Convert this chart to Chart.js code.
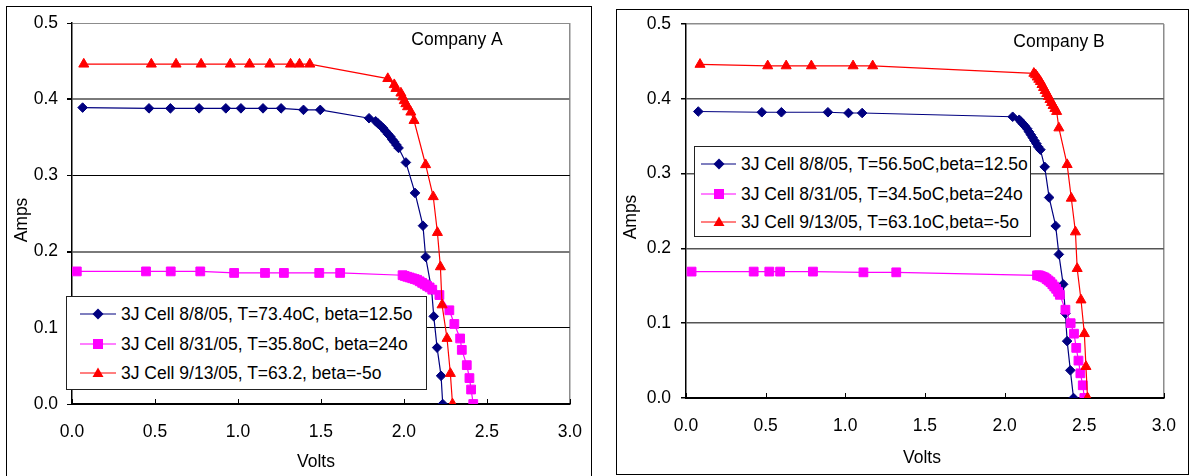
<!DOCTYPE html>
<html>
<head>
<meta charset="utf-8">
<script src="https://cdn.jsdelivr.net/npm/chart.js@4.4.1/dist/chart.umd.min.js"></script>
<style>
  html, body { margin: 0; padding: 0; background: #fff; }
  body { width: 1194px; height: 476px; position: relative; overflow: hidden;
         font-family: "Liberation Sans", Arial, sans-serif; }
  canvas { position: absolute; top: 0; }
  .frame { position: absolute; border: 1.5px solid #000; box-sizing: border-box; }
  .legend { position: absolute; background: #fff; border: 1.5px solid #222; box-sizing: border-box; }
  .legend .row { position: absolute; left: 0; height: 20px; line-height: 20px; font-size: 17.5px;
                 white-space: nowrap; color: #000; }
  .legend .row span { position: absolute; top: 0; }
  .legend svg { position: absolute; top: 3px; }
</style>
</head>
<body>
<div class="frame" style="left:6px; top:6px; width:586px; height:480px;"></div>
<div class="frame" style="left:616px; top:9px; width:573px; height:466px;"></div>
<canvas id="chartA" width="600" height="476" style="left:0;"></canvas>
<canvas id="chartB" width="594" height="476" style="left:600px;"></canvas>
<div class="legend" id="legendA" style="left:66px; top:296px; width:361px; height:94px;"></div>
<div class="legend" id="legendB" style="left:694px; top:146px; width:337px; height:91px;"></div>

<script>
'use strict';

// ---- Company A ----
const aLabels = [
  '3J Cell 8/8/05, T=73.4oC, beta=12.5o',
  '3J Cell 8/31/05, T=35.8oC, beta=24o',
  '3J Cell 9/13/05, T=63.2, beta=-5o',
];
const aBlueV = [0.064, 0.464, 0.593, 0.766, 0.927, 1.018, 1.151, 1.26, 1.395, 1.496,
  1.79, 1.83, 1.845, 1.86, 1.875, 1.89, 1.905, 1.918, 1.93, 1.942, 1.955, 1.968,
  2.012, 2.067, 2.115, 2.131, 2.167, 2.18, 2.2, 2.224, 2.234];
const aBlueI = [0.389, 0.388, 0.388, 0.388, 0.388, 0.388, 0.388, 0.388, 0.386, 0.386,
  0.375, 0.371, 0.368, 0.365, 0.362, 0.358, 0.354, 0.351, 0.347, 0.344, 0.34, 0.336,
  0.317, 0.277, 0.234, 0.193, 0.15, 0.115, 0.074, 0.037, 0.0];
const aPinkV = [0.029, 0.446, 0.595, 0.773, 0.977, 1.163, 1.277, 1.49, 1.616,
  1.992, 2.005, 2.02, 2.035, 2.05, 2.065, 2.08, 2.095, 2.11, 2.125, 2.14, 2.155, 2.171,
  2.214, 2.274, 2.304, 2.339, 2.349, 2.379, 2.395, 2.405, 2.418];
const aPinkI = [0.174, 0.174, 0.174, 0.174, 0.172, 0.172, 0.172, 0.172, 0.172,
  0.169, 0.168, 0.167, 0.166, 0.165, 0.164, 0.163, 0.161, 0.159, 0.157, 0.155, 0.153, 0.15,
  0.143, 0.123, 0.105, 0.086, 0.071, 0.051, 0.034, 0.019, 0.0];
const aRedV = [0.071, 0.478, 0.627, 0.778, 0.954, 1.07, 1.192, 1.317, 1.371, 1.433,
  1.903, 1.942, 1.952, 1.982, 1.992, 2.002, 2.012, 2.022, 2.042, 2.061,
  2.131, 2.177, 2.202, 2.22, 2.23, 2.26, 2.28, 2.293];
const aRedI = [0.446, 0.446, 0.446, 0.446, 0.446, 0.446, 0.446, 0.446, 0.446, 0.446,
  0.427, 0.419, 0.414, 0.408, 0.403, 0.398, 0.394, 0.39, 0.383, 0.372,
  0.314, 0.272, 0.225, 0.18, 0.13, 0.086, 0.04, 0.0];

// ---- Company B ----
const bLabels = [
  '3J Cell 8/8/05, T=56.5oC,beta=12.5o',
  '3J Cell 8/31/05, T=34.5oC,beta=24o',
  '3J Cell 9/13/05, T=63.1oC,beta=-5o',
];
const bBlueV = [0.077, 0.476, 0.599, 0.891, 1.02, 1.106,
  2.051, 2.092, 2.105, 2.118, 2.13, 2.142, 2.153, 2.165, 2.177, 2.188, 2.2, 2.21, 2.225,
  2.252, 2.28, 2.321, 2.341, 2.368, 2.382, 2.393, 2.413, 2.433];
const bBlueI = [0.383, 0.382, 0.382, 0.382, 0.381, 0.381,
  0.376, 0.372, 0.369, 0.366, 0.363, 0.36, 0.356, 0.352, 0.348, 0.344, 0.34, 0.336, 0.332,
  0.309, 0.268, 0.23, 0.192, 0.152, 0.113, 0.076, 0.037, 0.0];
const bPinkV = [0.035, 0.425, 0.523, 0.591, 0.797, 1.114, 1.32,
  2.204, 2.216, 2.228, 2.24, 2.252, 2.264, 2.276, 2.288, 2.3, 2.312, 2.324, 2.336, 2.347,
  2.382, 2.415, 2.436, 2.45, 2.464, 2.476, 2.491, 2.501];
const bPinkI = [0.169, 0.169, 0.169, 0.169, 0.169, 0.168, 0.168,
  0.164, 0.164, 0.163, 0.162, 0.161, 0.159, 0.157, 0.155, 0.152, 0.149, 0.146, 0.142, 0.138,
  0.118, 0.1, 0.086, 0.067, 0.05, 0.033, 0.017, 0.0];
const bRedV = [0.088, 0.513, 0.629, 0.787, 1.049, 1.172,
  2.184, 2.195, 2.205, 2.215, 2.225, 2.235, 2.245, 2.255, 2.265, 2.275, 2.285, 2.295, 2.305, 2.316, 2.327,
  2.341, 2.393, 2.419, 2.445, 2.456, 2.48, 2.501, 2.511, 2.521];
const bRedI = [0.446, 0.444, 0.444, 0.444, 0.444, 0.444,
  0.434, 0.432, 0.429, 0.426, 0.423, 0.419, 0.415, 0.411, 0.407, 0.403, 0.399, 0.395, 0.391, 0.387, 0.383,
  0.361, 0.312, 0.267, 0.222, 0.173, 0.131, 0.086, 0.042, 0.0];

const xTicks = [0, 0.5, 1.0, 1.5, 2.0, 2.5, 3.0];
const yTicks = [0, 0.1, 0.2, 0.3, 0.4, 0.5];

const FONT_FAMILY = '"Liberation Sans", Arial, sans-serif';
const FONT_SIZE = 17.5;
const NAVY = '#000080', MAGENTA = '#FF00FF', RED = '#FF0000';

const styles = [
  { color: NAVY, pointStyle: 'rectRot', radius: 4.8 },
  { color: MAGENTA, pointStyle: 'rect', radius: 6.2 },
  { color: RED, pointStyle: 'triangle', radius: 5.8 },
];

function pts(vs, is) {
  return vs.map((v, k) => ({ x: v, y: is[k] }));
}

function dataset(label, vs, is, st, order) {
  return {
    label,
    data: pts(vs, is),
    showLine: true,
    borderColor: st.color,
    backgroundColor: st.color,
    borderWidth: 1.2,
    pointStyle: st.pointStyle,
    pointRadius: st.radius,
    pointBorderWidth: 1,
    pointBorderColor: st.color,
    pointBackgroundColor: st.color,
    order,
  };
}

// inside tick marks on the x axis, and free-standing texts (axis titles, company name)
const decorations = {
  id: 'decorations',
  beforeDatasetsDraw(chart) {
    const { ctx, scales: { x }, chartArea } = chart;
    ctx.save();
    ctx.strokeStyle = '#000';
    ctx.lineWidth = 1;
    x.ticks.forEach(t => {
      const px = Math.round(x.getPixelForValue(t.value)) + 0.5;
      ctx.beginPath();
      ctx.moveTo(px, chartArea.bottom);
      ctx.lineTo(px, chartArea.bottom - 5);
      ctx.stroke();
    });
    ctx.restore();
  },
  afterDraw(chart, args, o) {
    const { ctx } = chart;
    ctx.save();
    ctx.fillStyle = '#000';
    ctx.font = `${FONT_SIZE}px ${FONT_FAMILY}`;
    ctx.textAlign = 'center';
    ctx.textBaseline = 'middle';
    ctx.fillText(o.xTitle, o.xTitlePos[0], o.xTitlePos[1]);
    ctx.fillText(o.title, o.titlePos[0], o.titlePos[1]);
    ctx.translate(o.yTitlePos[0], o.yTitlePos[1]);
    ctx.rotate(-Math.PI / 2);
    ctx.fillText(o.yTitle, 0, 0);
    ctx.restore();
  },
};

function makeChart(id, labels, series, cfg) {
  const datasets = series.map((s, k) => dataset(labels[k], s[0], s[1], styles[k], 2 - k));
  const font = { family: FONT_FAMILY, size: FONT_SIZE };
  return new Chart(document.getElementById(id), {
    type: 'scatter',
    data: { datasets },
    plugins: [decorations],
    options: {
      responsive: false,
      animation: false,
      events: [],
      layout: { padding: { left: 0, right: cfg.padRight, top: cfg.padTop, bottom: 0 } },
      plugins: {
        legend: { display: false },
        tooltip: { enabled: false },
        decorations: cfg.texts,
      },
      scales: {
        x: {
          type: 'linear',
          min: 0, max: 3,
          afterBuildTicks: s => { s.ticks = xTicks.map(v => ({ value: v })); },
          afterFit: s => { s.height = cfg.xHeight; },
          ticks: {
            color: '#000', font, padding: 18, maxRotation: 0, autoSkip: false,
            callback: v => v.toFixed(1),
          },
          grid: {
            drawTicks: false,
            color: c => (c.tick && c.tick.value === 3 ? '#8c8c8c' : 'rgba(0,0,0,0)'),
            lineWidth: 1.5,
          },
          border: { color: '#000', width: 2 },
        },
        y: {
          type: 'linear',
          min: 0, max: 0.5,
          afterBuildTicks: s => { s.ticks = yTicks.map(v => ({ value: v })); },
          afterFit: s => { s.width = cfg.yWidth; },
          ticks: {
            color: '#000', font, padding: cfg.yPad,
            callback: v => v.toFixed(1),
          },
          grid: {
            drawTicks: true,
            tickLength: 5,
            tickColor: '#000',
            color: c => cfg.gridColor(Math.round(c.tick.value * 10)),
            lineWidth: c => cfg.gridWidth(Math.round(c.tick.value * 10)),
          },
          border: { color: '#000', width: 1.5 },
        },
      },
    },
  });
}

makeChart('chartA', aLabels, [[aBlueV, aBlueI], [aPinkV, aPinkI], [aRedV, aRedI]], {
  padRight: 24, padTop: 23, xHeight: 72, yWidth: 72, yPad: 9,
  gridColor: k => (k === 5 ? '#8c8c8c' : (k === 2 || k === 4) ? '#7a7a7a' : '#000'),
  gridWidth: k => (k === 2 || k === 4) ? 2 : 1,
  texts: {
    xTitle: 'Volts', xTitlePos: [316, 462],
    yTitle: 'Amps', yTitlePos: [22, 220],
    title: 'Company A', titlePos: [457, 40],
  },
});

makeChart('chartB', bLabels, [[bBlueV, bBlueI], [bPinkV, bPinkI], [bRedV, bRedI]], {
  padRight: 19, padTop: 24, xHeight: 78, yWidth: 86, yPad: 10,
  gridColor: k => (k === 5 ? '#8c8c8c' : '#555'),
  gridWidth: k => 1.5,
  texts: {
    xTitle: 'Volts', xTitlePos: [322, 458],
    yTitle: 'Amps', yTitlePos: [31, 217],
    title: 'Company B', titlePos: [459, 42],
  },
});

// HTML legends
function markerSvg(st, x1, x2, xm) {
  const cy = 7;
  let shape = '';
  if (st.pointStyle === 'rectRot') {
    const r = 5.5;
    shape = `<polygon points="${xm - r},${cy} ${xm},${cy - r} ${xm + r},${cy} ${xm},${cy + r}" fill="${st.color}"/>`;
  } else if (st.pointStyle === 'rect') {
    shape = `<rect x="${xm - 5}" y="${cy - 5}" width="10" height="10" fill="${st.color}"/>`;
  } else {
    shape = `<polygon points="${xm - 5.5},${cy + 4} ${xm},${cy - 5.5} ${xm + 5.5},${cy + 4}" fill="${st.color}"/>`;
  }
  return `<svg width="${x2 + 6}" height="14" style="left:0;">` +
    `<line x1="${x1}" y1="${cy}" x2="${x2}" y2="${cy}" stroke="${st.color}" stroke-width="1.2"/>` +
    shape + '</svg>';
}

function buildLegend(id, labels, rows, lineX1, lineX2, markX, textX) {
  const el = document.getElementById(id);
  el.innerHTML = labels.map((lab, k) =>
    `<div class="row" style="top:${rows[k] - 10}px; width:100%;">` +
    markerSvg(styles[k], lineX1, lineX2, markX) +
    `<span style="left:${textX}px;">${lab}</span></div>`
  ).join('');
}

buildLegend('legendA', aLabels, [17, 47, 76], 13, 49, 31, 54);
buildLegend('legendB', bLabels, [17, 47, 75], 6, 41, 24, 46);
</script>
</body>
</html>
